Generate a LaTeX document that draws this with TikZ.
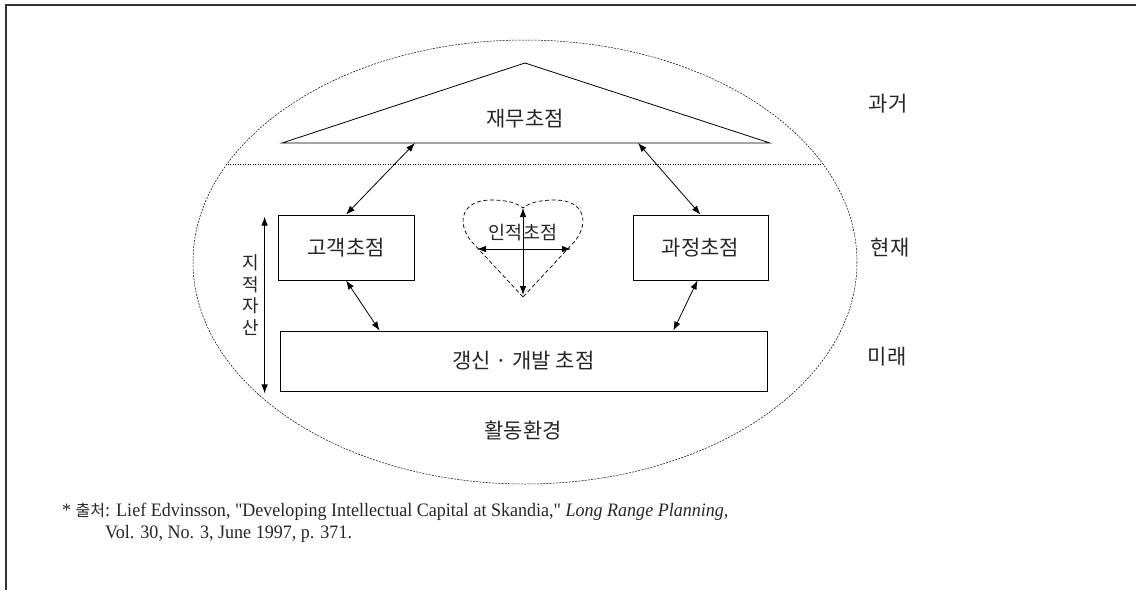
\documentclass[tikz,border=0pt]{standalone}
\usepackage{fontspec}
\setmainfont{Liberation Serif}
\newfontfamily\kr{Noto Sans CJK KR}
\newfontfamily\fnote[FakeStretch=0.95]{Liberation Serif}
\usetikzlibrary{arrows.meta}

\begin{document}
\begin{tikzpicture}[x=1pt,y=-1pt,
  line/.style={draw=black, line width=0.8pt},
  dbl/.style={line, {Latex[length=9pt,width=6.5pt]}-{Latex[length=9pt,width=6.5pt]}},
  krtext/.style={font=\kr\fontsize{21}{24}\selectfont, text=black!85, inner sep=0pt},
  focusbox/.style={krtext, draw=black, line width=0.8pt},
  heartline/.style={draw=black, line width=0.7pt, dash pattern=on 4pt off 2.5pt},
  srcline/.style={anchor=west, inner sep=0pt, text=black!85, font=\fnote\fontsize{19}{22}\selectfont}]

\useasboundingbox (0,0) rectangle (1136,590);

% page frame
\draw[line width=1.6pt, draw=black!80] (6,590) -- (6,5) -- (1136,5);

% operating environment
\draw[line width=0.5pt, dash pattern=on 2pt off 1.2pt]
  (525,262) ellipse [x radius=332, y radius=222];
\begin{scope}
  \clip (525,262) ellipse [x radius=332, y radius=222];
  \draw[line width=0.5pt, dotted] (150,164) -- (900,164);
\end{scope}

% financial focus
\coordinate (apex) at (525,63);
\coordinate (bl) at (282,143);
\coordinate (br) at (770,143);
\draw[line] (bl) -- (apex) -- (br) -- cycle;
\node[krtext] (fin) at (525,119) {재무초점};
\coordinate (fa) at (415,143);
\coordinate (fb) at (638,143);

% customer, process, renewal boxes
\node[focusbox, minimum width=136, minimum height=65] (cust) at (346,247.5) {고객초점};
\node[focusbox, minimum width=135, minimum height=65] (proc) at (700.5,247.5) {과정초점};
\node[focusbox, minimum width=487, minimum height=60] (dev) at (523.5,361) {갱신 · 개발 초점};

\path (dev.north west) ++(100,0) coordinate (d1);
\path (dev.north east) ++(-94,0) coordinate (d2);
\path (proc.south) ++(-3,0) coordinate (p1);

\draw[dbl] (fa) -- (cust.north);
\draw[dbl] (fb) -- (proc.north);
\draw[dbl] (cust.south) -- (d1);
\draw[dbl] (p1) -- (d2);

% intellectual capital bracket
\path (cust.north west) ++(-13,2) coordinate (icTop);
\path (dev.south west) ++(-15,2) coordinate (icBot);
\draw[dbl] (icTop) -- (icBot);
\node[font=\kr\fontsize{18}{21.5}\selectfont, text=black!85, inner sep=0pt, align=center] (ic) at (251,295) {지\\적\\자\\산};

% human focus (heart)
\draw[heartline] (523,297) -- (471,241)
  .. controls (456,222) and (462,200) .. (491,200)
  .. controls (507,200) and (517,203) .. (523,208)
  .. controls (529,203) and (539,200) .. (555,200)
  .. controls (584,200) and (590,222) .. (575,241) -- cycle;
\node[font=\kr\fontsize{18.5}{21}\selectfont, text=black!85, inner sep=0pt] (hum) at (523,233) {인적초점};
\coordinate (ht) at (523,208);
\coordinate (hb) at (523,295);
\coordinate (hl) at (477,249);
\coordinate (hr) at (571,249);
\draw[dbl] (ht) -- (hb);
\draw[dbl] (hl) -- (hr);

% time labels
\node[krtext] (past) at (888,104) {과거};
\node[krtext] (now) at (890,248) {현재};
\node[krtext] (future) at (887,357) {미래};
\node[krtext] (env) at (523,431) {활동환경};

% source note
\node[srcline] (src1) at (62,512) {* {\kr\fontsize{16}{18}\selectfont 출처}: Lief Edvinsson, "Developing Intellectual Capital at Skandia," \textit{Long Range Planning,}};
\node[srcline] (src2) at (105,534) {Vol. 30, No. 3, June 1997, p. 371.};
\end{tikzpicture}
\end{document}
